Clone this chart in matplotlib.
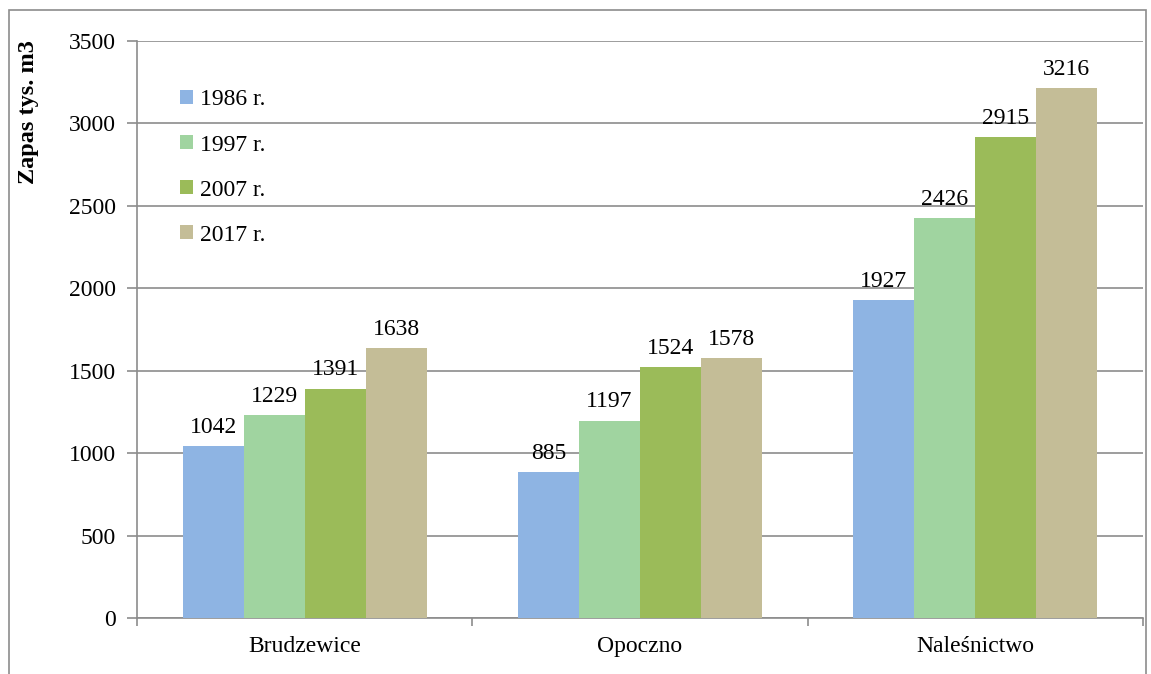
import numpy as np
import matplotlib.pyplot as plt
from matplotlib.patches import Rectangle

kategorie = ['Brudzewice', 'Opoczno', 'Naleśnictwo']
lata = ['1986 r.', '1997 r.', '2007 r.', '2017 r.']
z1986 = [1042, 885, 1927]
z1997 = [1229, 1197, 2426]
z2007 = [1391, 1524, 2915]
z2017 = [1638, 1578, 3216]
kolory = ['#8EB4E3', '#A0D4A0', '#9BBB59', '#C4BD97']

plt.rcParams['font.family'] = ['Liberation Serif', 'DejaVu Serif']
fs = 17

fig = plt.figure(figsize=(11.51, 6.74), dpi=100)
ax = fig.add_axes([137 / 1151, 56 / 674, (1143 - 137) / 1151, (618 - 41) / 674])

# ramka wokol wykresu
fig.patches.append(Rectangle((9 / 1151, -0.05), (1146 - 9) / 1151, 1.05 - 10 / 674,
                             transform=fig.transFigure, fill=False,
                             edgecolor='#8c8c8c', linewidth=1.2))

x = np.arange(len(kategorie))
szer = 0.182
serie = [z1986, z1997, z2007, z2017]
for i, (wart, kol, lab) in enumerate(zip(serie, kolory, lata)):
    pos = x + (i - 1.5) * szer
    ax.bar(pos, wart, szer, color=kol, label=lab, zorder=3)
    for p, v in zip(pos, wart):
        ax.text(p, v + 50, str(v), ha='center', va='bottom', fontsize=fs)

ax.set_ylim(0, 3500)
ax.set_xlim(-0.5, 2.5)
ax.set_yticks(range(0, 3501, 500))
ax.set_xticks(x)
ax.set_xticklabels(kategorie, fontsize=fs)
ax.set_xticks([-0.5, 0.5, 1.5, 2.5], minor=True)
ax.tick_params(axis='x', which='major', length=0, pad=13)
ax.tick_params(axis='x', which='minor', length=6, color='#8c8c8c', width=1.2)
ax.tick_params(axis='y', labelsize=fs, length=7, color='#8c8c8c', width=1.2, pad=8)
ax.grid(axis='y', color='#8c8c8c', linewidth=1.2, zorder=0)
for s in ['top', 'right']:
    ax.spines[s].set_visible(False)
for s in ['left', 'bottom']:
    ax.spines[s].set_color('#8c8c8c')
    ax.spines[s].set_linewidth(1.2)

ax.set_ylabel('Zapas tys. m3', fontsize=17.5, fontweight='bold')
ax.yaxis.set_label_coords(-0.097, 0.877)

ax.legend(loc='upper left', bbox_to_anchor=(0.043, 0.916), frameon=False,
          fontsize=fs, handlelength=0.55, handleheight=0.55, handletextpad=0.3,
          labelspacing=1.02, borderaxespad=0, borderpad=0)

fig.savefig('out.png', dpi=100)
